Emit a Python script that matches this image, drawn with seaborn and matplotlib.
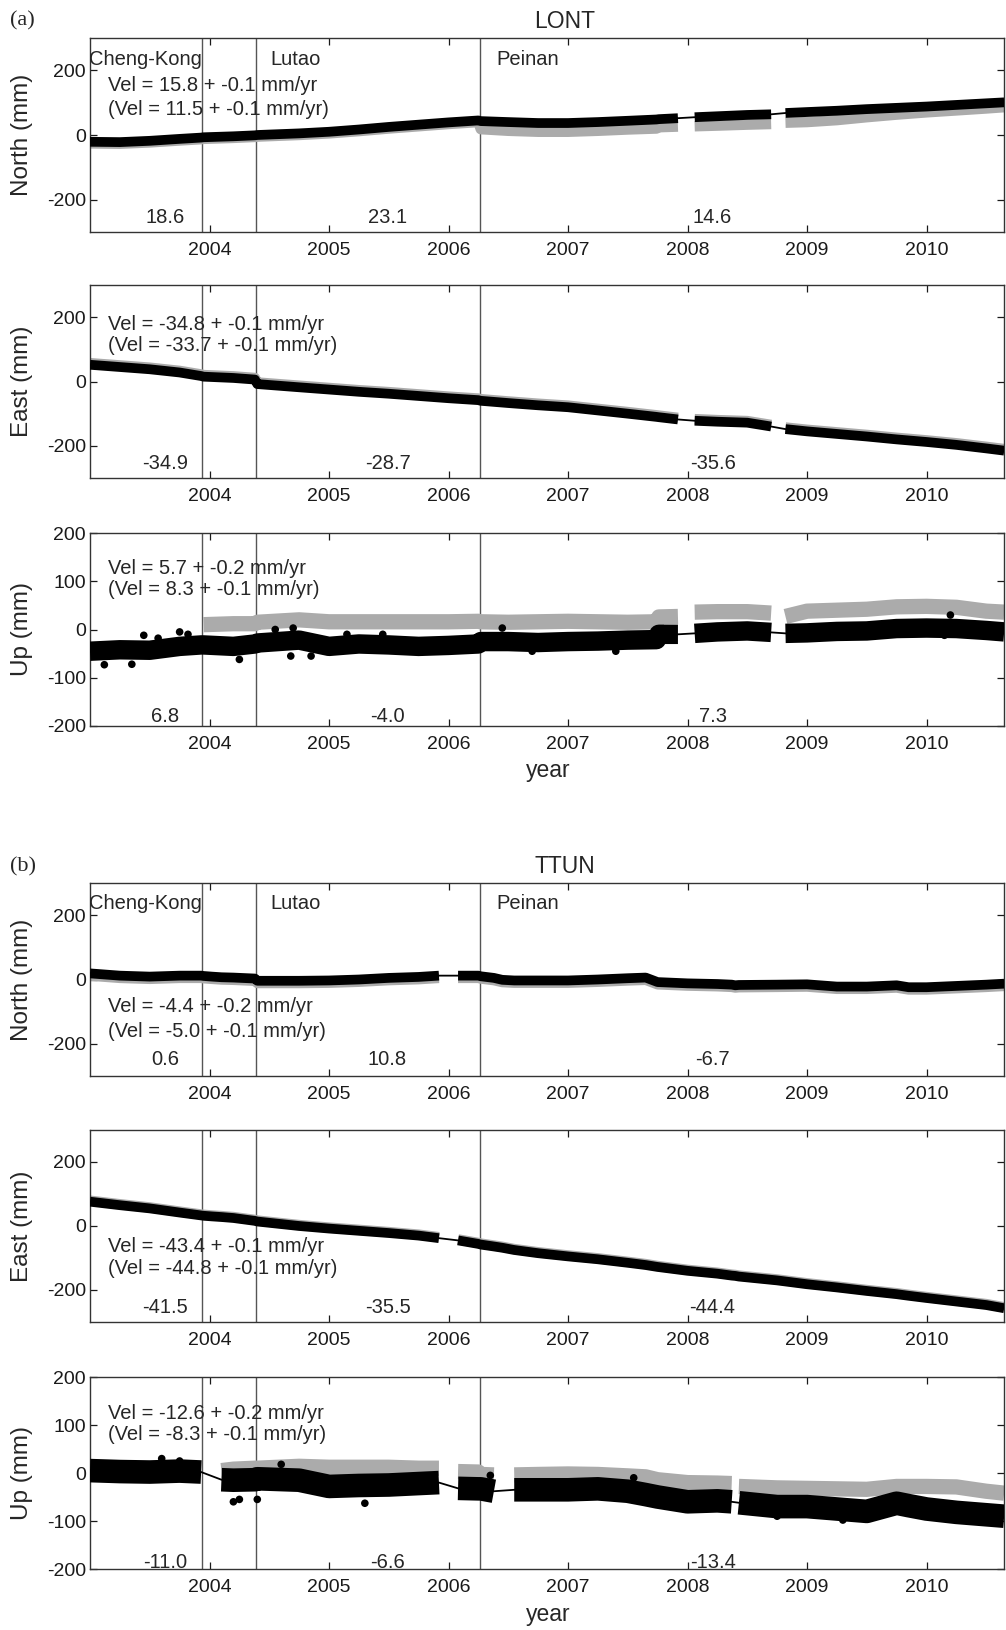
import numpy as np
import pandas as pd
import matplotlib
matplotlib.use("Agg")
import matplotlib.pyplot as plt
import seaborn as sns

sns.set_theme(style="ticks")
plt.rcParams["font.family"] = ["Liberation Sans", "DejaVu Sans"]

nan = float("nan")

# ---------------- data ----------------
events = [2003.94, 2004.39, 2006.26]
event_names = ["Cheng-Kong", "Lutao", "Peinan"]
year_ticks = [2004, 2005, 2006, 2007, 2008, 2009, 2010]

# LONT
lont_t = [2003.00, 2003.25, 2003.50, 2003.75, 2003.93, 2003.95, 2004.20, 2004.38, 2004.40, 2004.75,
          2005.00, 2005.25, 2005.50, 2005.75, 2006.00, 2006.25, 2006.27, 2006.50, 2006.75, 2007.00,
          2007.25, 2007.50, 2007.74, 2007.76, 2007.92, 2007.99, 2008.06, 2008.25, 2008.50, 2008.70,
          2008.76, 2008.82, 2009.00, 2009.25, 2009.50, 2009.75, 2010.00, 2010.25, 2010.50, 2010.65]
lont_north = [-21, -22, -18, -12, -8, -7, -4, -1, 0, 5,
              10, 17, 25, 32, 39, 45, 43, 40, 37, 37,
              40, 44, 48, 49, 52, nan, 55, 58, 62, 64,
              nan, 68, 71, 75, 80, 84, 88, 93, 98, 101]
lont_north_gray = [-26, -27, -23, -17, -13, -12, -9, -6, -5, 0,
                   5, 12, 20, 27, 34, 40, 18, 13, 10, 10,
                   13, 17, 20, 24, 26, nan, 27, 29, 32, 34,
                   nan, 38, 40, 46, 55, 63, 70, 76, 82, 86]
lont_east = [52, 45, 38, 28, 17, 15, 11, 6, -8, -18,
             -25, -32, -38, -45, -52, -58, -60, -67, -74, -80,
             -90, -100, -110, -111, -118, nan, -122, -125, -128, -140,
             nan, -148, -155, -163, -171, -180, -188, -197, -208, -215]
lont_east_gray = [57, 50, 43, 33, 22, 20, 16, 11, -3, -13,
                  -20, -27, -33, -40, -47, -53, -55, -62, -69, -75,
                  -85, -95, -105, -106, -113, nan, -117, -120, -123, -135,
                  nan, -143, -150, -158, -166, -175, -183, -192, -203, -210]
lont_up = [-45, -42, -43, -35, -32, -32, -35, -30, -28, -22,
           -35, -30, -32, -35, -33, -30, -25, -25, -27, -25,
           -24, -22, -21, -10, -10, nan, -8, -5, -3, -6,
           nan, -8, -7, -4, -3, 2, 3, 2, -2, -5]
lont_up_gray = [nan, nan, nan, nan, nan, 10, 12, 12, 15, 20,
                16, 16, 16, 16, 16, 17, 16, 15, 16, 17,
                16, 15, 16, 26, 27, nan, 36, 37, 37, 34,
                nan, 27, 38, 40, 42, 47, 48, 46, 38, 36]
lont_up_out_t = [2003.12, 2003.35, 2003.45, 2003.57, 2003.75, 2003.82, 2004.25, 2004.55, 2004.68,
                 2004.70, 2004.85, 2005.15, 2005.45, 2006.45, 2006.70, 2007.40, 2010.15, 2010.20]
lont_up_out_v = [-73, -72, -12, -18, -5, -10, -62, 0, -55, 3, -55, -10, -10, 3, -45, -45, -12, 30]

# TTUN
ttun_t = [2003.00, 2003.25, 2003.50, 2003.75, 2003.93, 2003.95, 2004.02, 2004.10, 2004.20, 2004.38,
          2004.40, 2004.75, 2005.00, 2005.25, 2005.50, 2005.75, 2005.92, 2006.00, 2006.08, 2006.25,
          2006.27, 2006.38, 2006.45, 2006.55, 2006.75, 2007.00, 2007.25, 2007.50, 2007.65, 2007.75,
          2008.00, 2008.25, 2008.37, 2008.40, 2008.43, 2008.75, 2009.00, 2009.25, 2009.50, 2009.75,
          2009.85, 2010.00, 2010.25, 2010.50, 2010.65]
ttun_north = [19, 12, 9, 12, 12, 11, 9, 7, 6, 3,
              -4, -4, -3, 0, 5, 8, 12, nan, 12, 12,
              10, 5, -1, -3, -3, -3, 0, 4, 6, -8,
              -12, -14, -16, -18, -17, -16, -15, -22, -22, -18,
              -24, -24, -20, -16, -13]
ttun_north_gray = [12, 5, 2, 5, 5, 4, 2, 0, -1, -4,
                   -11, -11, -10, -7, -2, 1, 5, nan, 5, 5,
                   3, -2, -8, -10, -10, -10, -7, -3, -1, -15,
                   -19, -21, -23, -25, -24, -23, -22, -29, -29, -25,
                   -31, -31, -27, -23, -20]
ttun_east = [76, 65, 55, 42, 33, 32, 30, 28, 25, 16,
             14, 0, -8, -15, -22, -30, -38, nan, -45, -56,
             -58, -64, -68, -75, -85, -95, -104, -115, -122, -128,
             -140, -149, -155, -156, -158, -170, -182, -192, -203, -213,
             -218, -225, -236, -247, -257]
ttun_east_gray = [79, 68, 58, 45, 36, 35, 33, 31, 28, 19,
                  17, 3, -5, -12, -19, -27, -35, nan, -42, -53,
                  -55, -61, -65, -72, -82, -92, -101, -112, -119, -125,
                  -137, -146, -152, -153, -155, -167, -179, -189, -200, -210,
                  -215, -222, -233, -244, -254]
ttun_up = [5, 3, 2, 4, 2, nan, nan, -14, -15, -14,
           -12, -15, -28, -26, -25, -22, -20, nan, -32, -33,
           -33, -38, nan, -35, -35, -35, -33, -38, -45, -50,
           -60, -58, -60, nan, -62, -70, -70, -75, -80, -63,
           -68, -75, -82, -87, -90]
ttun_up_gray = [nan, nan, nan, nan, nan, nan, nan, 5, 8, 10,
                10, 14, 12, 12, 12, 10, 10, nan, 3, 2,
                -3, -4, nan, -4, -3, -2, -3, -6, -8, -14,
                -20, -21, -22, nan, -28, -31, -32, -33, -34, -28,
                -28, -28, -29, -38, -42]
ttun_up_out_t = [2003.60, 2003.75, 2004.20, 2004.25, 2004.40, 2004.60, 2005.30, 2006.35,
                 2007.55, 2008.75, 2009.30, 2009.50, 2010.60]
ttun_up_out_v = [30, 25, -60, -55, -55, 18, -63, -5, -10, -90, -98, -95, -100]

# velocity texts
lont_vel = [("Vel = 15.8 + -0.1 mm/yr", "(Vel = 11.5 + -0.1 mm/yr)"),
            ("Vel = -34.8 + -0.1 mm/yr", "(Vel = -33.7 + -0.1 mm/yr)"),
            ("Vel = 5.7 + -0.2 mm/yr", "(Vel = 8.3 + -0.1 mm/yr)")]
ttun_vel = [("Vel = -4.4 + -0.2 mm/yr", "(Vel = -5.0 + -0.1 mm/yr)"),
            ("Vel = -43.4 + -0.1 mm/yr", "(Vel = -44.8 + -0.1 mm/yr)"),
            ("Vel = -12.6 + -0.2 mm/yr", "(Vel = -8.3 + -0.1 mm/yr)")]
lont_seg = [("18.6", "23.1", "14.6"), ("-34.9", "-28.7", "-35.6"), ("6.8", "-4.0", "7.3")]
ttun_seg = [("0.6", "10.8", "-6.7"), ("-41.5", "-35.5", "-44.4"), ("-11.0", "-6.6", "-13.4")]
seg_x = [2003.63, 2005.49, 2008.21]

# ---------------- layout ----------------
W, H = 1006, 1630
fig = plt.figure(figsize=(W / 100, H / 100), dpi=100)
X0, X1 = 90, 1004
XLIM = (2003.0, 2003.0 + (X1 - X0) / 119.5)
GRAY = "#ababab"
FS_TXT = 14.5


def to_df(t, v):
    rows, seg = [], 0
    for ti, vi in zip(t, v):
        if np.isnan(vi):
            seg += 1
            continue
        rows.append((ti, vi, seg))
    return pd.DataFrame(rows, columns=["t", "v", "seg"])


def panel(top, bot, t, black, gray, ylim, yticks, ylabel, vel, vel_y, segs, seg_y,
          bw, gw, out_t=None, out_v=None, names_y=None):
    ax = fig.add_axes([X0 / W, 1 - bot / H, (X1 - X0) / W, (bot - top) / H])
    for e in events:
        ax.axvline(e, color="#555555", lw=1.0, zorder=1)
    dg = to_df(t, gray)
    sns.lineplot(data=dg, x="t", y="v", units="seg", estimator=None, sort=False,
                 color=GRAY, lw=gw, solid_capstyle="butt", ax=ax, zorder=2, legend=False)
    db = to_df(t, black)
    sns.lineplot(data=db, x="t", y="v", units="seg", estimator=None, sort=False,
                 color="black", lw=bw, solid_capstyle="butt", ax=ax, zorder=3, legend=False)
    sns.lineplot(x=db["t"], y=db["v"], estimator=None, sort=False,
                 color="black", lw=1.3, ax=ax, zorder=4)
    if out_t is not None:
        sns.scatterplot(x=out_t, y=out_v, color="black", s=30, edgecolor="none",
                        ax=ax, zorder=4, legend=False)
    ax.set_xlim(*XLIM)
    ax.set_ylim(*ylim)
    ax.set_xticks(year_ticks)
    ax.set_xticklabels([str(y) for y in year_ticks])
    ax.set_yticks(yticks)
    ax.set_yticklabels([str(y) for y in yticks])
    ax.tick_params(direction="in", top=True, right=True, length=5, width=0.9,
                   labelsize=14, colors="#1a1a1a")
    ax.tick_params(axis="x", pad=7)
    ax.tick_params(axis="y", pad=3)
    for s in ax.spines.values():
        s.set_color("#333333")
        s.set_linewidth(1.0)
    ax.set_xlabel("")
    ax.set_ylabel(ylabel, fontsize=17.5)
    ax.yaxis.set_label_coords(-0.062, 0.5)
    tr = ax.get_xaxis_transform()
    ax.text(2003.15, vel_y[0], vel[0], transform=tr, fontsize=FS_TXT, va="center", ha="left", zorder=5)
    ax.text(2003.15, vel_y[1], vel[1], transform=tr, fontsize=FS_TXT, va="center", ha="left", zorder=5)
    for x, s in zip(seg_x, segs):
        ax.text(x, seg_y, s, transform=tr, fontsize=FS_TXT, va="center", ha="center", zorder=5)
    if names_y is not None:
        for x, s in zip([2002.99, 2004.51, 2006.40], event_names):
            ax.text(x, names_y, s, transform=tr, fontsize=14.5, va="center", ha="left", zorder=5)
    return ax


# (a) LONT
panel(38, 232, lont_t, lont_north, lont_north_gray, (-300, 300), [-200, 0, 200], "North (mm)",
      lont_vel[0], (0.753, 0.629), lont_seg[0], 0.077, 7, 7.5, names_y=0.887)
panel(285, 478, lont_t, lont_east, lont_east_gray, (-300, 300), [-200, 0, 200], "East (mm)",
      lont_vel[1], (0.793, 0.689), lont_seg[1], 0.073, 7, 7.5)
panel(533, 726, lont_t, lont_up, lont_up_gray, (-200, 200), [-200, -100, 0, 100, 200], "Up (mm)",
      lont_vel[2], (0.818, 0.705), lont_seg[2], 0.047, 14, 11, lont_up_out_t, lont_up_out_v)

# (b) TTUN
panel(883, 1076, ttun_t, ttun_north, ttun_north_gray, (-300, 300), [-200, 0, 200], "North (mm)",
      ttun_vel[0], (0.358, 0.228), ttun_seg[0], 0.083, 7, 7.5, names_y=0.896)
panel(1130, 1322, ttun_t, ttun_east, ttun_east_gray, (-300, 300), [-200, 0, 200], "East (mm)",
      ttun_vel[1], (0.392, 0.281), ttun_seg[1], 0.073, 7, 7.5)
panel(1377, 1569, ttun_t, ttun_up, ttun_up_gray, (-200, 200), [-200, -100, 0, 100, 200], "Up (mm)",
      ttun_vel[2], (0.812, 0.698), ttun_seg[2], 0.036, 17, 11, ttun_up_out_t, ttun_up_out_v)

# titles / labels
fig.text(565 / W, 1 - 21 / H, "LONT", ha="center", va="center", fontsize=16.5)
fig.text(565 / W, 1 - 866 / H, "TTUN", ha="center", va="center", fontsize=16.5)
fig.text(10 / W, 1 - 21 / H, "(a)", ha="left", va="center", fontsize=16,
         family=["Liberation Serif", "DejaVu Serif"])
fig.text(10 / W, 1 - 867 / H, "(b)", ha="left", va="center", fontsize=16,
         family=["Liberation Serif", "DejaVu Serif"])
fig.text(548 / W, 1 - 771 / H, "year", ha="center", va="center", fontsize=16.5)
fig.text(548 / W, 1 - 1614 / H, "year", ha="center", va="center", fontsize=16.5)

fig.savefig("out.png", dpi=100)
